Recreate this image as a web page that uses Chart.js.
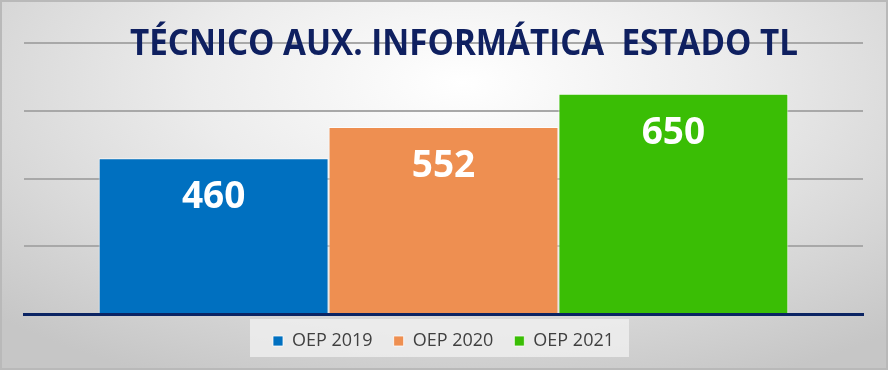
<!DOCTYPE html>
<html>
<head>
<meta charset="utf-8">
<script src="https://cdn.jsdelivr.net/npm/chart.js@4.4.1/dist/chart.umd.min.js"></script>
<style>
  html, body { margin: 0; padding: 0; }
  #marco {
    position: relative;
    width: 888px; height: 370px;
    box-sizing: border-box;
    border: 2px solid #b9b9b9;
    background: radial-gradient(ellipse 75% 90% at 52% 22%, #ffffff 0%, #ececec 40%, #d6d6d6 75%, #c6c6c6 100%);
  }
  #grafico { position: absolute; left: -2px; top: -2px; }
</style>
</head>
<body>
<div id="marco"><canvas id="grafico" width="888" height="370"></canvas></div>
<script>
const titulo = "TÉCNICO AUX. INFORMÁTICA  ESTADO TL";
const series = ["OEP 2019", "OEP 2020", "OEP 2021"];
const plazas = [460, 552, 650];
const colores = ["#0070C0", "#EE8F51", "#3ABE05"];

// titulo dibujado encima de la rejilla, como en el original
const tituloPlugin = {
    id: "tituloPlugin",
    afterDraw(chart) {
        const ctx = chart.ctx;
        ctx.save();
        ctx.fillStyle = "#0f2060";
        ctx.font = "bold 36px 'Open Sans'";
        ctx.textAlign = "center";
        ctx.textBaseline = "alphabetic";
        ctx.fillText(titulo, 464, 55, 668);
        ctx.restore();
    }
};

// valores dentro de cada barra
const etiquetas = {
    id: "etiquetas",
    afterDatasetsDraw(chart) {
        const ctx = chart.ctx;
        ctx.save();
        ctx.fillStyle = "#ffffff";
        ctx.font = "bold 37px 'Open Sans'";
        ctx.textAlign = "center";
        ctx.textBaseline = "alphabetic";
        chart.data.datasets.forEach((ds, i) => {
            const barra = chart.getDatasetMeta(i).data[0];
            ctx.fillText(ds.data[0], barra.x, barra.y + 50);
        });
        ctx.restore();
    }
};

// fondo claro detrás de la leyenda
const fondoLeyenda = {
    id: "fondoLeyenda",
    beforeDraw(chart) {
        const cajas = chart.legend.legendHitBoxes;
        if (!cajas || !cajas.length) return;
        const izq = cajas[0].left - 23;
        const der = cajas[cajas.length - 1].left + cajas[cajas.length - 1].width + 15;
        const ctx = chart.ctx;
        ctx.save();
        ctx.fillStyle = "rgba(242,242,242,0.75)";
        ctx.fillRect(izq, 319, der - izq, 38);
        ctx.restore();
    }
};

let ctx = document.getElementById("grafico").getContext("2d");
let grafico = new Chart(ctx, {
    type: "bar",
    data: {
        labels: [""],
        datasets: series.map((s, i) => ({
            label: s,
            data: [plazas[i]],
            backgroundColor: colores[i],
            borderColor: "rgba(255,255,255,0.75)",
            borderWidth: 1
        }))
    },
    options: {
        responsive: false,
        animation: false,
        layout: { padding: { left: 24, right: 25, top: 43, bottom: 7 } },
        datasets: { bar: { categoryPercentage: 0.822, barPercentage: 1 } },
        scales: {
            x: {
                grid: { display: false, drawTicks: false },
                ticks: { display: false },
                border: { color: "#0b2463", width: 3 },
                afterFit: (s) => { s.height = -3; }
            },
            y: {
                min: 0, max: 800,
                ticks: { display: false, stepSize: 200 },
                border: { display: false },
                grid: {
                    drawTicks: false,
                    lineWidth: 2,
                    color: (c) => c.tick && c.tick.value === 0 ? "rgba(0,0,0,0)" : "#a8a8a8"
                }
            }
        },
        plugins: {
            legend: {
                position: "bottom",
                labels: {
                    boxWidth: 10, boxHeight: 10,
                    padding: 21,
                    color: "#404040",
                    font: { family: "'Open Sans'", size: 18 }
                }
            },
            tooltip: { enabled: false }
        }
    },
    plugins: [tituloPlugin, etiquetas, fondoLeyenda]
});
</script>
</body>
</html>
